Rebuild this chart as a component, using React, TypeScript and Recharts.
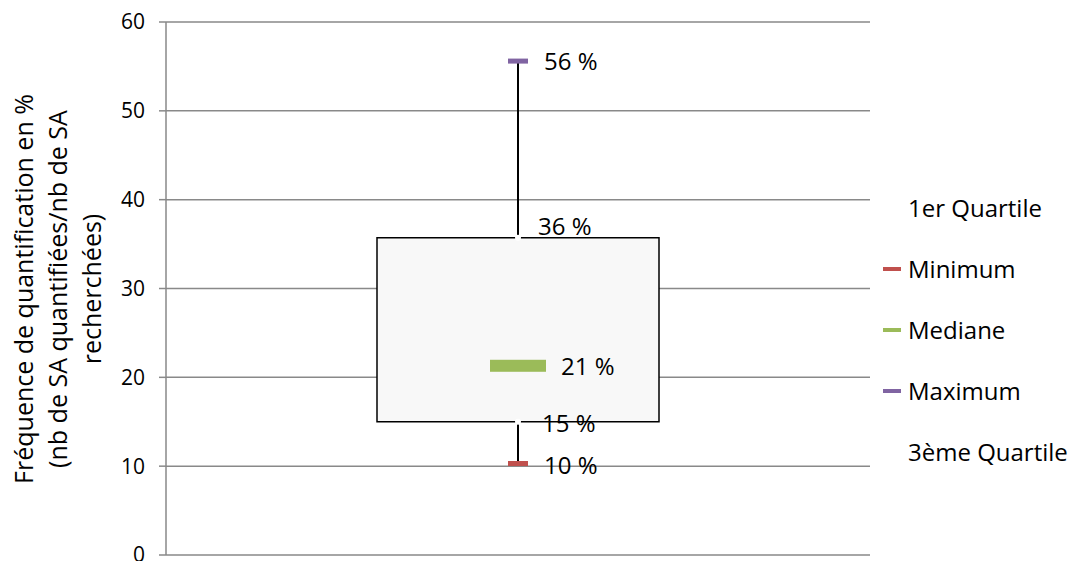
import { ComposedChart, Bar, Line, XAxis, YAxis, CartesianGrid, Legend, LabelList } from 'recharts';

const categories = ['Fréquence de quantification'];
const minimum = [10.3];
const quartile1 = [15.0];
const mediane = [21.3];
const quartile3 = [35.7];
const maximum = [55.6];

const yTicks = [0, 10, 20, 30, 40, 50, 60];
const legendNames = ['1er Quartile', 'Minimum', 'Mediane', 'Maximum', '3ème Quartile'];
const legendColors = ['', '#c0504d', '#9bbb59', '#8064a2', ''];
const yTitleLines = ['Fréquence de quantification en %', '(nb de SA quantifiées/nb de SA', 'recherchées)'];

const data = categories.map((name, i) => ({
  name,
  box: [quartile1[i], quartile3[i]],
  whisker: [minimum[i], maximum[i]],
  min: minimum[i],
  q1: quartile1[i],
  med: mediane[i],
  q3: quartile3[i],
  max: maximum[i],
}));

const FONT = '"Open Sans", sans-serif';
const GRID = '#898989';

function pct(v: number) {
  return `${Math.round(v)} %`;
}

function marker(color: string, w: number, h: number) {
  return (props: any) => {
    const { cx, cy, key } = props;
    if (cx == null || cy == null) return <g key={key} />;
    return <rect key={key} x={cx - w / 2} y={cy - h / 2} width={w} height={h} fill={color} />;
  };
}

// dx/dy place the label's baseline start relative to the point
function valueLabel(dx: number, dy: number) {
  return (props: any) => {
    const { x, y, value } = props;
    return (
      <text x={x + dx} y={y + dy} fontSize={24} fontFamily={FONT} fill="#000">
        {pct(Number(value))}
      </text>
    );
  };
}

function YTitle() {
  const cx = 67;
  const cy = 289;
  return (
    <text
      transform={`rotate(-90, ${cx}, ${cy})`}
      x={cx}
      y={cy}
      textAnchor="middle"
      fontSize={25}
      fontFamily={FONT}
      fill="#000"
    >
      {yTitleLines.map((line, i) => (
        <tspan key={i} x={cx} dy={i === 0 ? -34 : 34}>
          {line}
        </tspan>
      ))}
    </text>
  );
}

function LegendBox() {
  return (
    <div style={{ fontFamily: FONT, fontSize: 24, color: '#000', lineHeight: 1 }}>
      {legendNames.map((name, i) => (
        <div key={name} style={{ height: 61, display: 'flex', alignItems: 'center' }}>
          <span
            style={{
              display: 'inline-block',
              width: 18,
              height: 4,
              marginRight: 7,
              background: legendColors[i] || 'transparent',
            }}
          />
          <span>{name}</span>
        </div>
      ))}
    </div>
  );
}

export default function App() {
  return (
    <div style={{ position: 'absolute', left: 0, top: 0, fontFamily: FONT }}>
      <ComposedChart width={1072} height={561} data={data} margin={{ top: 22, right: 202, bottom: 6, left: 0 }}>
        <CartesianGrid vertical={false} stroke={GRID} strokeWidth={1.5} />
        <XAxis
          xAxisId="a"
          dataKey="name"
          tick={false}
          tickLine={false}
          height={0}
          axisLine={{ stroke: GRID, strokeWidth: 1.5 }}
        />
        <XAxis xAxisId="b" dataKey="name" hide />
        <YAxis
          width={166}
          domain={[0, 60]}
          ticks={yTicks}
          interval={0}
          tickSize={7}
          tickMargin={14}
          axisLine={{ stroke: GRID, strokeWidth: 1.5 }}
          tickLine={{ stroke: GRID, strokeWidth: 1.5 }}
          tick={{ fill: '#000', fontSize: 21, fontFamily: FONT }}
          label={<YTitle />}
        />
        <Bar xAxisId="b" dataKey="whisker" barSize={2} fill="#000" isAnimationActive={false} />
        <Bar
          xAxisId="a"
          dataKey="box"
          barSize={282}
          fill="#f8f8f8"
          stroke="#000"
          strokeWidth={1.5}
          isAnimationActive={false}
        />
        <Line xAxisId="a" dataKey="q1" stroke="none" dot={false} activeDot={false} isAnimationActive={false}>
          <LabelList dataKey="q1" content={valueLabel(24, 10)} />
        </Line>
        <Line xAxisId="a" dataKey="q3" stroke="none" dot={false} activeDot={false} isAnimationActive={false}>
          <LabelList dataKey="q3" content={valueLabel(20, -3)} />
        </Line>
        <Line
          xAxisId="a"
          dataKey="min"
          stroke="none"
          dot={marker('#c0504d', 20, 5)}
          activeDot={false}
          isAnimationActive={false}
        >
          <LabelList dataKey="min" content={valueLabel(26, 10)} />
        </Line>
        <Line
          xAxisId="a"
          dataKey="med"
          stroke="none"
          dot={marker('#9bbb59', 56, 12)}
          activeDot={false}
          isAnimationActive={false}
        >
          <LabelList dataKey="med" content={valueLabel(43, 9)} />
        </Line>
        <Line
          xAxisId="a"
          dataKey="max"
          stroke="none"
          dot={marker('#8064a2', 20, 5)}
          activeDot={false}
          isAnimationActive={false}
        >
          <LabelList dataKey="max" content={valueLabel(26, 9)} />
        </Line>
        <Legend
          layout="horizontal"
          verticalAlign="middle"
          align="center"
          content={() => <LegendBox />}
          wrapperStyle={{ left: 883, top: 177, width: 189, height: 305 }}
        />
      </ComposedChart>
    </div>
  );
}
